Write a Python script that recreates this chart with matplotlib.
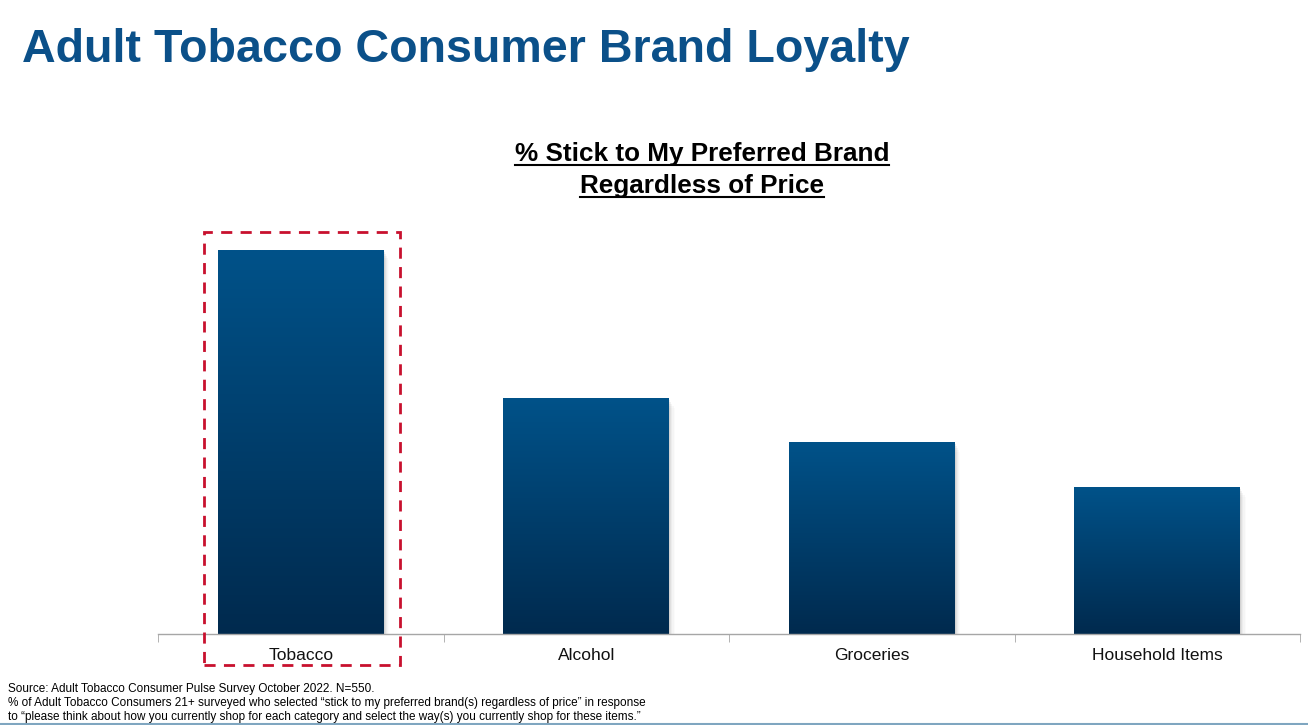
import matplotlib
matplotlib.use("Agg")
import matplotlib.pyplot as plt
from matplotlib.colors import LinearSegmentedColormap
from matplotlib.patches import Rectangle
import numpy as np

plt.rcParams['font.family'] = ['Liberation Sans', 'DejaVu Sans']

# data (relative bar heights, no axis shown)
categories = ["Tobacco", "Alcohol", "Groceries", "Household Items"]
values = [384, 236, 192, 147]
highlight = "Tobacco"

title = "Adult Tobacco Consumer Brand Loyalty"
subtitle = ["% Stick to My Preferred Brand", "Regardless of Price"]
footnotes = [
    "Source: Adult Tobacco Consumer Pulse Survey October 2022. N=550.",
    "% of Adult Tobacco Consumers 21+ surveyed who selected \u201cstick to my preferred brand(s) regardless of price\u201d in response",
    "to \u201cplease think about how you currently shop for each category and select the way(s) you currently shop for these items.\u201d",
]

W, H = 1308, 725
fig = plt.figure(figsize=(W / 100, H / 100), dpi=100)
ax = fig.add_axes([158 / W, (H - 634) / H, (1300 - 158) / W, (634 - 200) / H])

bar_w = 0.58
cmap = LinearSegmentedColormap.from_list("bar", ["#002a4e", "#005289"])
grad = np.linspace(0, 1, 256).reshape(-1, 1)
x = np.arange(len(categories))

for xi, v in zip(x, values):
    # soft shadow on the right
    for k, a in enumerate([0.10, 0.08, 0.06, 0.04, 0.02]):
        off = 0.004 * (k + 1)
        ax.add_patch(Rectangle((xi - bar_w / 2 + off, 0), bar_w, v - 2 * (k + 1),
                               facecolor="#606060", alpha=a, edgecolor="none", zorder=1))
    ax.imshow(grad, cmap=cmap, aspect="auto", origin="lower",
              extent=(xi - bar_w / 2, xi + bar_w / 2, 0, v), zorder=2)

ax.set_xlim(-0.5, len(categories) - 0.5)
ax.set_ylim(0, 434)

# red dashed box around the highlighted category
hi = categories.index(highlight)
ax.add_patch(Rectangle((hi - 0.338, -31), 0.684, values[hi] + 49, fill=False,
                       edgecolor="#c8102e", linestyle=(0, (4, 3)), linewidth=2,
                       clip_on=False, zorder=5))

for s in ["top", "left", "right"]:
    ax.spines[s].set_visible(False)
ax.spines["bottom"].set_color("#a6a6a6")
ax.spines["bottom"].set_linewidth(1)
ax.set_yticks([])
ax.set_xticks(x)
ax.set_xticklabels(categories, fontsize=12.5, color="#111111")
ax.tick_params(axis="x", which="major", length=0, pad=10)
ax.set_xticks(np.arange(len(categories) + 1) - 0.5, minor=True)
ax.tick_params(axis="x", which="minor", length=6, color="#a6a6a6", direction="out")

# titles
fig.text(22 / W, 1 - 62 / H, title, fontsize=33.6, fontweight="bold", color="#0b5089",
         ha="left", va="baseline")
sub_x = 702 / W
sub_texts = []
for i, line in enumerate(subtitle):
    t = fig.text(sub_x, 1 - (161 + i * 32) / H, line, fontsize=18.8, fontweight="bold",
                 color="black", ha="center", va="baseline")
    sub_texts.append(t)

fig.canvas.draw()
r = fig.canvas.get_renderer()
for t in sub_texts:
    bb = t.get_window_extent(r)
    y = (bb.y0 + 1) / H
    fig.add_artist(plt.Line2D([bb.x0 / W, bb.x1 / W], [y, y], color="black", lw=1.5))

for i, line in enumerate(footnotes):
    fig.text(8 / W, 1 - (692 + i * 14) / H, line, fontsize=8.45, color="black",
             ha="left", va="baseline")

fig.add_artist(plt.Line2D([0, 1], [1.5 / H, 1.5 / H], color="#7fa6c0", lw=1.5))

fig.savefig("out.png", dpi=100, facecolor="white")
